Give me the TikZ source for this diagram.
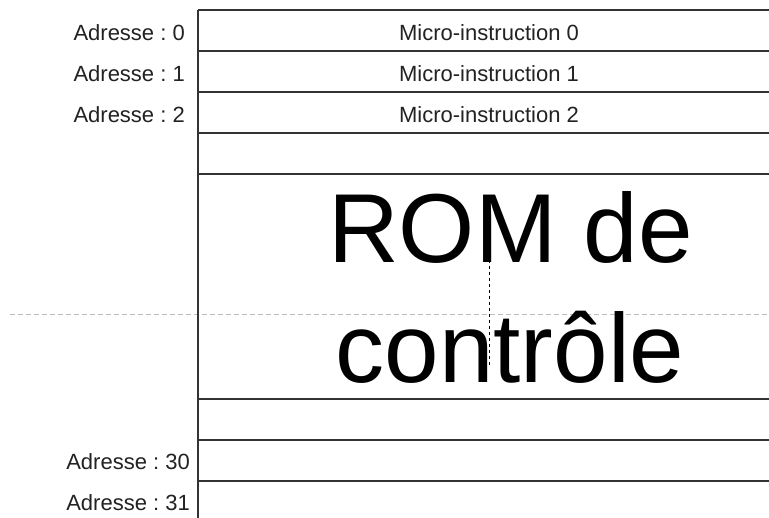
\documentclass[tikz,border=0pt]{standalone}
\usepackage{fontspec}
\setmainfont{Liberation Sans}
\frenchspacing
\definecolor{lineC}{RGB}{51,51,51}
\definecolor{txtC}{RGB}{34,34,34}
\definecolor{guideC}{RGB}{190,190,190}
\begin{document}
\begin{tikzpicture}[x=1pt,y=-1pt,
  rowline/.style={draw=lineC,line width=1.3pt},
  addr/.style={anchor=base east,inner sep=0pt,text=txtC,font=\fontsize{22}{26}\selectfont\frenchspacing},
  micro/.style={anchor=base,inner sep=0pt,text=txtC,font=\fontsize{22}{26}\selectfont\frenchspacing},
  bigtxt/.style={anchor=base,inner sep=0pt,text=black,font=\fontsize{98}{120}\selectfont},
  guide/.style={draw=guideC,line width=0.8pt,dash pattern=on 5pt off 3pt},
  centerguide/.style={draw=black,line width=0.9pt,dash pattern=on 3pt off 3pt}]
\useasboundingbox (0,0) rectangle (769,518);
\fill[white] (0,0) rectangle (769,518);
\begin{scope}
\clip (0,0) rectangle (769,518);
% guide lines
\draw[guide] (10,314) -- (769,314);
% ROM rows
\foreach \y in {10,51,92,133,174,399,440,481}{
  \draw[rowline] (198,\y) -- (790,\y);
}
\draw[rowline] (198,10) -- (198,530);
% big text
\node[bigtxt] (t1) at (510.5,263) {ROM de};
\node[bigtxt] (t2) at (510,383) {contrôle};
\draw[centerguide] (489.5,212) -- (489.5,366);
% labels
\node[addr] (a0) at (185,41) {Adresse : 0};
\node[addr] (a1) at (185,82) {Adresse : 1};
\node[addr] (a2) at (185,123) {Adresse : 2};
\node[addr] (a30) at (190,470) {Adresse : 30};
\node[addr] (a31) at (190,511) {Adresse : 31};
\node[micro] (m0) at (489,41) {Micro-instruction 0};
\node[micro] (m1) at (489,82) {Micro-instruction 1};
\node[micro] (m2) at (489,123) {Micro-instruction 2};
\end{scope}
\end{tikzpicture}
\end{document}
